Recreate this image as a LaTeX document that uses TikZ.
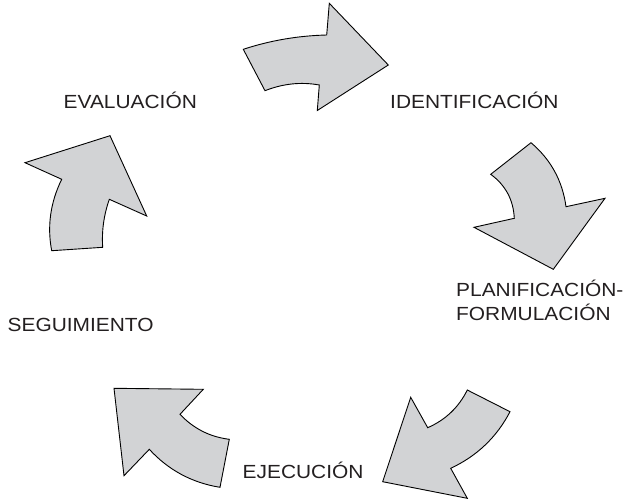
\documentclass[tikz,border=0pt]{standalone}
\usepackage{fontspec}
\setmainfont{Liberation Sans}
\usepackage{graphicx}
\definecolor{arrowgray}{RGB}{210,211,213}
\definecolor{textgray}{RGB}{35,31,32}
\begin{document}
\begin{tikzpicture}[x=1pt,y=-1pt,
  cyclearrow/.style={draw=black,fill=arrowgray,line width=0.9pt,line join=miter},
  lbl/.style={inner sep=0pt,anchor=base west,text=textgray,font=\fontsize{19}{24}\selectfont,align=left}]
\useasboundingbox (0,0) rectangle (629,501);
% arrow 1 (top)
\draw[cyclearrow] (243.3,49.3) .. controls (270.4,40.4) and (298.2,35.7) .. (326.7,35) -- (329.3,3.3) -- (388.3,65) -- (317.3,110.5) -- (319.3,85) .. controls (301.1,81.7) and (283,83.6) .. (265,90.7) -- cycle;
% arrow 2 (right)
\draw[cyclearrow] (531,142.7) -- (490.7,174.3) .. controls (505.6,185.2) and (513.4,199.9) .. (514.3,218.3) -- (474,227.3) -- (553.3,269.3) -- (605,198.3) -- (566,206.7) .. controls (562.5,180.9) and (550.9,159.6) .. cycle;
% arrow 3 (bottom right)
\draw[cyclearrow] (467.3,390) -- (510,411.7) .. controls (496.7,437.2) and (476.9,456.1) .. (450.7,468.3) -- (467.3,498.3) -- (382.7,481.7) -- (410.7,397.3) -- (427.7,427.7) .. controls (445.5,419.9) and (458.7,407.3) .. cycle;
% arrow 4 (bottom left)
\draw[cyclearrow] (114,388.3) -- (203.3,389.3) -- (180,414.3) .. controls (193.5,428.6) and (209.9,436.9) .. (229.3,439.3) -- (220,487.3) .. controls (192.1,482.8) and (168.5,470.2) .. (149.3,449.3) -- (124,475.7) -- cycle;
% arrow 5 (left)
\draw[cyclearrow] (51.7,250.7) -- (102.7,247.3) .. controls (101.6,231.1) and (103.8,215.1) .. (109.3,199.3) -- (146.7,216) -- (110,135.7) -- (25,162.7) -- (61.7,179.3) .. controls (50.4,202.4) and (47,226.2) .. cycle;
% labels
\node[lbl] (evaluacion) at (63.5,108.3) {\scalebox{1.1}[1]{EVALUACIÓN}};
\node[lbl] (identificacion) at (390,108.3) {\scalebox{1.1}[1]{IDENTIFICACIÓN}};
\node[lbl] (planificacion) at (456,320) {\scalebox{1.1}[1]{PLANIFICACIÓN-}\\\scalebox{1.1}[1]{FORMULACIÓN}};
\node[lbl] (seguimiento) at (7.5,331.7) {\scalebox{1.1}[1]{SEGUIMIENTO}};
\node[lbl] (ejecucion) at (242.5,478.3) {\scalebox{1.1}[1]{EJECUCIÓN}};
\end{tikzpicture}
\end{document}
